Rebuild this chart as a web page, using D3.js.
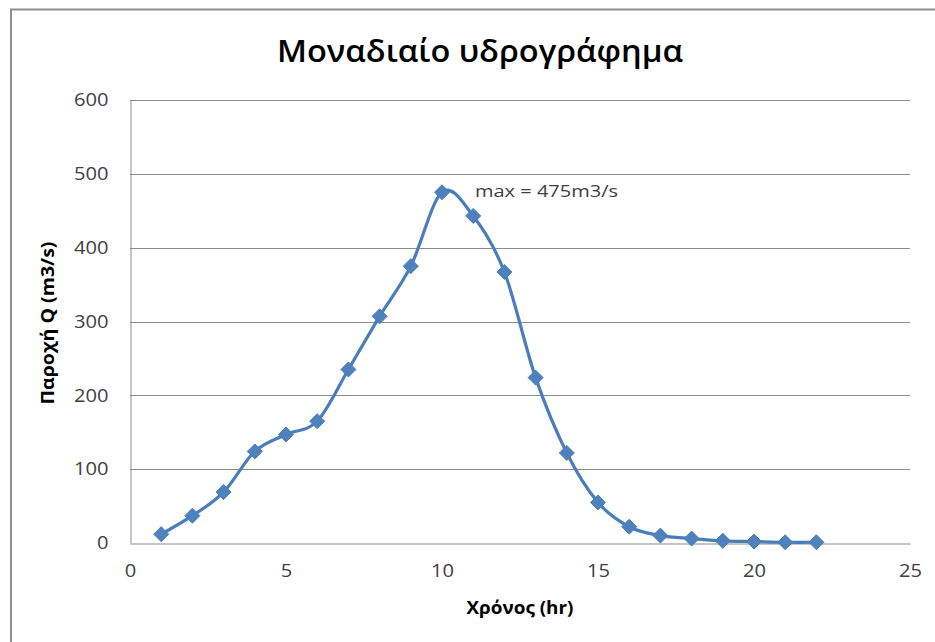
<!DOCTYPE html>
<html>
<head>
<meta charset="utf-8">
<script src="https://cdn.jsdelivr.net/npm/d3@7"></script>
<style>
  html, body { margin: 0; padding: 0; background: #fff; }
  svg { display: block; }
</style>
</head>
<body>
<svg id="chart" width="935" height="642"></svg>
<script>
// ---- data ----
const hours = [1, 2, 3, 4, 5, 6, 7, 8, 9, 10, 11, 12, 13, 14, 15, 16, 17, 18, 19, 20, 21, 22];
const discharge = [12, 37, 69, 124, 147, 165, 235, 307, 375, 475, 443, 367, 224, 122, 55, 22, 10, 6, 3, 2, 1, 1];
const xTicks = [0, 5, 10, 15, 20, 25];
const yTicks = [0, 100, 200, 300, 400, 500, 600];
const titleText = "Μοναδιαίο υδρογράφημα";
const xTitle = "Χρόνος (hr)";
const yTitle = "Παροχή Q (m3/s)";
const annotation = "max = 475m3/s";

const W = 935, H = 642;
const plot = { left: 130, right: 910, top: 100, bottom: 543 };
const FONT = "'Open Sans', 'DejaVu Sans', sans-serif";
const lineColor = "#4A7EBB";
const gridColor = "#8C8C8C";

const svg = d3.select("#chart");

const x = d3.scaleLinear().domain([0, 25]).range([plot.left, plot.right]);
const y = d3.scaleLinear().domain([0, 600]).range([plot.bottom, plot.top]);

// chart border (left & top visible)
svg.append("path")
  .attr("d", `M11,${H} V9.5 H${W}`)
  .attr("fill", "none")
  .attr("stroke", "#8E8E8E")
  .attr("stroke-width", 2);

// gridlines
svg.append("g")
  .selectAll("line")
  .data(yTicks.filter(d => d > 0))
  .join("line")
  .attr("x1", x(0)).attr("x2", x(25))
  .attr("y1", d => Math.round(y(d)) + 0.5).attr("y2", d => Math.round(y(d)) + 0.5)
  .attr("stroke", gridColor).attr("stroke-width", 1);

// axes
const yAxis = svg.append("g")
  .attr("transform", `translate(${plot.left + 0.5},0)`)
  .call(d3.axisLeft(y).tickValues(yTicks).tickSize(0).tickSizeOuter(0).tickPadding(22));
const xAxis = svg.append("g")
  .attr("transform", `translate(0,${Math.round(plot.bottom) + 0.5})`)
  .call(d3.axisBottom(x).tickValues(xTicks).tickSize(0).tickSizeOuter(0).tickPadding(21));

[yAxis, xAxis].forEach(g => {
  g.select(".domain").attr("stroke", gridColor).attr("stroke-width", 1);
  g.selectAll("text")
    .attr("fill", "#404040")
    .attr("textLength", function () { return this.textContent.length * 11.5; })
    .attr("lengthAdjust", "spacingAndGlyphs")
    .style("font-family", FONT)
    .style("font-size", "18px");
});

// smoothed line
const pts = hours.map((h, i) => [h, discharge[i]]);
const line = d3.line()
  .x(d => x(d[0]))
  .y(d => y(d[1]))
  .curve(d3.curveCatmullRom.alpha(0));

svg.append("path")
  .datum(pts)
  .attr("d", line)
  .attr("fill", "none")
  .attr("stroke", lineColor)
  .attr("stroke-width", 3.2)
  .attr("stroke-linejoin", "round");

// diamond markers
const r = 7.5;
svg.append("g")
  .selectAll("path")
  .data(pts)
  .join("path")
  .attr("d", d => {
    const cx = x(d[0]), cy = y(d[1]);
    return `M${cx},${cy - r} L${cx + r},${cy} L${cx},${cy + r} L${cx - r},${cy} Z`;
  })
  .attr("fill", "#4F81BD")
  .attr("stroke", lineColor)
  .attr("stroke-width", 1);

// title
svg.append("text")
  .attr("x", 480).attr("y", 62)
  .attr("text-anchor", "middle")
  .attr("textLength", 406)
  .attr("lengthAdjust", "spacingAndGlyphs")
  .style("font-family", FONT)
  .style("font-weight", 600)
  .style("font-size", "30px")
  .attr("fill", "#000")
  .text(titleText);

// x axis title
svg.append("text")
  .attr("x", 520).attr("y", 614)
  .attr("text-anchor", "middle")
  .attr("textLength", 107)
  .attr("lengthAdjust", "spacingAndGlyphs")
  .style("font-family", FONT)
  .style("font-weight", 700)
  .style("font-size", "17px")
  .attr("fill", "#000")
  .text(xTitle);

// y axis title
svg.append("text")
  .attr("transform", `translate(54,323) rotate(-90)`)
  .attr("text-anchor", "middle")
  .attr("textLength", 163)
  .attr("lengthAdjust", "spacingAndGlyphs")
  .style("font-family", FONT)
  .style("font-weight", 700)
  .style("font-size", "17px")
  .attr("fill", "#000")
  .text(yTitle);

// annotation
svg.append("text")
  .attr("x", 475).attr("y", 197)
  .attr("textLength", 143)
  .attr("lengthAdjust", "spacingAndGlyphs")
  .style("font-family", FONT)
  .style("font-size", "17px")
  .attr("fill", "#404040")
  .text(annotation);
</script>
</body>
</html>
